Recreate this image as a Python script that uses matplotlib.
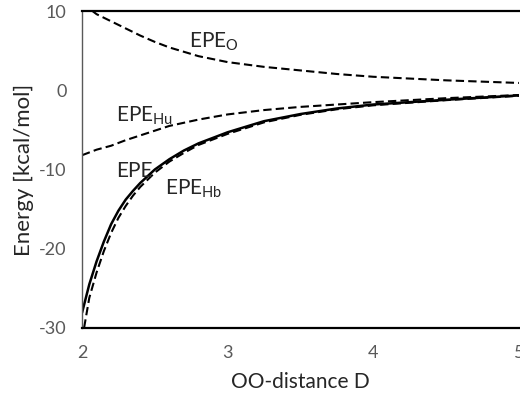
import numpy as np
import matplotlib
matplotlib.use("Agg")
import matplotlib.pyplot as plt

plt.rcParams['font.family'] = ['Lato', 'DejaVu Sans']
plt.rcParams['mathtext.fontset'] = 'custom'
plt.rcParams['mathtext.rm'] = 'Lato'
plt.rcParams['mathtext.it'] = 'Lato:italic'
plt.rcParams['axes.unicode_minus'] = False

# OO-distance D and energies (kcal/mol)
D = [2.0, 2.05, 2.1, 2.15, 2.2, 2.25, 2.3, 2.35, 2.4, 2.5, 2.6, 2.7, 2.8, 3.0, 3.25, 3.5, 3.75, 4.0, 4.5, 5.0]
epe = [-28.1, -24.5, -21.6, -19.1, -16.9, -15.2, -13.8, -12.7, -11.7, -10.0, -8.7, -7.6, -6.7, -5.3, -3.9, -3.0, -2.3, -1.8, -1.2, -0.65]
epe_hb = [-31.5, -26.2, -23.0, -20.3, -18.0, -16.1, -14.6, -13.3, -12.2, -10.4, -9.0, -7.9, -6.9, -5.5, -4.05, -3.1, -2.4, -1.9, -1.25, -0.7]
epe_hu = [-8.2, -7.85, -7.5, -7.25, -7.0, -6.65, -6.3, -6.0, -5.7, -5.1, -4.5, -4.1, -3.7, -3.05, -2.5, -2.1, -1.8, -1.5, -1.0, -0.6]
epe_o = [11.0, 10.3, 9.6, 9.15, 8.7, 8.25, 7.8, 7.35, 6.9, 6.1, 5.4, 4.85, 4.3, 3.55, 2.95, 2.5, 2.05, 1.7, 1.25, 0.92]

x_ticks = [2, 3, 4, 5]
y_ticks = [-30, -20, -10, 0, 10]

fig = plt.figure(figsize=(5.2, 4.01), dpi=100)
ax = fig.add_axes([82/520, 1 - 328/401, 437/520, 317/401])

ax.plot(D, epe, color='black', lw=1.8, solid_capstyle='butt')
for ys in (epe_hb, epe_hu, epe_o):
    ax.plot(D, ys, color='black', lw=1.5, ls=(0, (4, 2)))

ax.set_xlim(2, 5)
ax.set_ylim(-30, 10)
ax.set_xticks(x_ticks)
ax.set_yticks(y_ticks)
ax.tick_params(length=0, labelsize=13, labelcolor='#595959')
ax.tick_params(axis='x', pad=12)
ax.tick_params(axis='y', pad=11)

ax.spines['right'].set_visible(False)
ax.spines['left'].set_color('#595959')
ax.spines['left'].set_linewidth(1.0)
for s in ('top', 'bottom'):
    ax.spines[s].set_color('black')
    ax.spines[s].set_linewidth(1.6)

ax.set_xlabel('OO-distance D', fontsize=15, color='#262626', labelpad=8)
ax.set_ylabel('Energy [kcal/mol]', fontsize=16, color='#262626', labelpad=4)

lbl = dict(fontsize=15, color='#262626', ha='left', va='baseline')
ax.text(2.734, 5.33, r'EPE$_{\mathrm{O}}$', **lbl)
ax.text(2.233, -4.0, r'EPE$_{\mathrm{Hu}}$', **lbl)
ax.text(2.233, -10.93, 'EPE', **lbl)
ax.text(2.57, -13.2, r'EPE$_{\mathrm{Hb}}$', **lbl)

fig.savefig('out.png', dpi=100)
